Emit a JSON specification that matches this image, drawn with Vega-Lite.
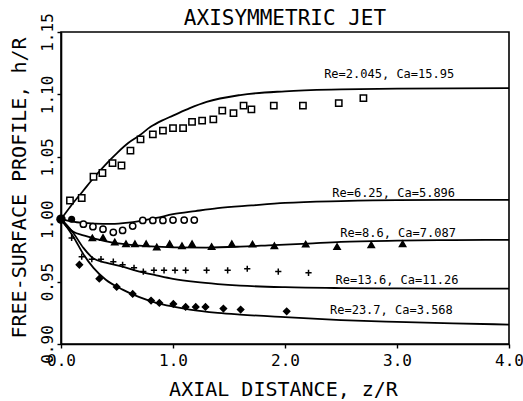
{
  "$schema": "https://vega.github.io/schema/vega-lite/v6.json",
  "width": 448,
  "height": 312,
  "autosize": {"type": "none"},
  "padding": {"left": 61, "top": 32, "right": 14, "bottom": 57},
  "background": "white",
  "title": {"text": "AXISYMMETRIC JET", "font": "DejaVu Sans Mono", "fontSize": 21, "fontWeight": "normal", "color": "black", "anchor": "middle", "frame": "group", "offset": 4, "dy": 20},
  "config": {
    "view": {"stroke": "black", "strokeWidth": 1.6},
    "axis": {"grid": false, "domainColor": "black", "domainWidth": 1.6, "tickColor": "black", "tickWidth": 1.4, "tickSize": 4, "labelFont": "DejaVu Sans Mono", "labelFontSize": 16, "labelColor": "black", "titleFont": "DejaVu Sans Mono", "titleFontSize": 20, "titleFontWeight": "normal", "titleColor": "black"}
  },
  "datasets": {
    "curves": [
      {"series": "A", "x": 0, "y": 1.0}, {"series": "A", "x": 0.1, "y": 1.012}, {"series": "A", "x": 0.2, "y": 1.023}, {"series": "A", "x": 0.3, "y": 1.034}, {"series": "A", "x": 0.4, "y": 1.044}, {"series": "A", "x": 0.5, "y": 1.053}, {"series": "A", "x": 0.6, "y": 1.061}, {"series": "A", "x": 0.7, "y": 1.067}, {"series": "A", "x": 0.8, "y": 1.074}, {"series": "A", "x": 0.9, "y": 1.079}, {"series": "A", "x": 1.0, "y": 1.083}, {"series": "A", "x": 1.15, "y": 1.089}, {"series": "A", "x": 1.3, "y": 1.094}, {"series": "A", "x": 1.6, "y": 1.0995}, {"series": "A", "x": 2.0, "y": 1.1025}, {"series": "A", "x": 2.5, "y": 1.104}, {"series": "A", "x": 3.0, "y": 1.1047}, {"series": "A", "x": 4.0, "y": 1.105},
      {"series": "B", "x": 0, "y": 1.0}, {"series": "B", "x": 0.1, "y": 0.998}, {"series": "B", "x": 0.2, "y": 0.997}, {"series": "B", "x": 0.3, "y": 0.9965}, {"series": "B", "x": 0.45, "y": 0.9962}, {"series": "B", "x": 0.6, "y": 0.9972}, {"series": "B", "x": 0.7, "y": 0.9985}, {"series": "B", "x": 0.85, "y": 1.001}, {"series": "B", "x": 1.0, "y": 1.004}, {"series": "B", "x": 1.2, "y": 1.0065}, {"series": "B", "x": 1.4, "y": 1.0088}, {"series": "B", "x": 1.7, "y": 1.011}, {"series": "B", "x": 2.0, "y": 1.013}, {"series": "B", "x": 2.5, "y": 1.0145}, {"series": "B", "x": 3.0, "y": 1.0153}, {"series": "B", "x": 4.0, "y": 1.0155},
      {"series": "C", "x": 0, "y": 1.0}, {"series": "C", "x": 0.05, "y": 0.994}, {"series": "C", "x": 0.11, "y": 0.99}, {"series": "C", "x": 0.2, "y": 0.987}, {"series": "C", "x": 0.3, "y": 0.9845}, {"series": "C", "x": 0.45, "y": 0.9815}, {"series": "C", "x": 0.6, "y": 0.9797}, {"series": "C", "x": 0.8, "y": 0.9782}, {"series": "C", "x": 1.0, "y": 0.9775}, {"series": "C", "x": 1.3, "y": 0.9773}, {"series": "C", "x": 1.6, "y": 0.978}, {"series": "C", "x": 1.9, "y": 0.9793}, {"series": "C", "x": 2.2, "y": 0.9805}, {"series": "C", "x": 2.5, "y": 0.9818}, {"series": "C", "x": 3.0, "y": 0.9828}, {"series": "C", "x": 3.5, "y": 0.9833}, {"series": "C", "x": 4.0, "y": 0.9835},
      {"series": "D", "x": 0, "y": 1.0}, {"series": "D", "x": 0.05, "y": 0.9955}, {"series": "D", "x": 0.11, "y": 0.989}, {"series": "D", "x": 0.2, "y": 0.977}, {"series": "D", "x": 0.29, "y": 0.9685}, {"series": "D", "x": 0.4, "y": 0.9652}, {"series": "D", "x": 0.55, "y": 0.962}, {"series": "D", "x": 0.7, "y": 0.958}, {"series": "D", "x": 0.85, "y": 0.955}, {"series": "D", "x": 1.0, "y": 0.9522}, {"series": "D", "x": 1.2, "y": 0.9497}, {"series": "D", "x": 1.4, "y": 0.948}, {"series": "D", "x": 1.6, "y": 0.9468}, {"series": "D", "x": 2.0, "y": 0.9455}, {"series": "D", "x": 2.5, "y": 0.9448}, {"series": "D", "x": 3.0, "y": 0.9445}, {"series": "D", "x": 4.0, "y": 0.9443},
      {"series": "E", "x": 0, "y": 1.0}, {"series": "E", "x": 0.05, "y": 0.994}, {"series": "E", "x": 0.11, "y": 0.986}, {"series": "E", "x": 0.2, "y": 0.972}, {"series": "E", "x": 0.29, "y": 0.961}, {"series": "E", "x": 0.4, "y": 0.9515}, {"series": "E", "x": 0.55, "y": 0.9436}, {"series": "E", "x": 0.7, "y": 0.9375}, {"series": "E", "x": 0.85, "y": 0.933}, {"series": "E", "x": 1.0, "y": 0.93}, {"series": "E", "x": 1.15, "y": 0.9276}, {"series": "E", "x": 1.4, "y": 0.925}, {"series": "E", "x": 1.6, "y": 0.9236}, {"series": "E", "x": 2.0, "y": 0.9215}, {"series": "E", "x": 2.5, "y": 0.9192}, {"series": "E", "x": 3.0, "y": 0.9177}, {"series": "E", "x": 3.5, "y": 0.9165}, {"series": "E", "x": 4.0, "y": 0.9156}
    ],
    "points": [
      {"series": "A", "x": 0.08, "y": 1.015}, {"series": "A", "x": 0.185, "y": 1.017}, {"series": "A", "x": 0.29, "y": 1.034}, {"series": "A", "x": 0.37, "y": 1.037}, {"series": "A", "x": 0.46, "y": 1.045}, {"series": "A", "x": 0.54, "y": 1.043}, {"series": "A", "x": 0.62, "y": 1.055}, {"series": "A", "x": 0.71, "y": 1.064}, {"series": "A", "x": 0.82, "y": 1.068}, {"series": "A", "x": 0.91, "y": 1.071}, {"series": "A", "x": 1.0, "y": 1.073}, {"series": "A", "x": 1.09, "y": 1.073}, {"series": "A", "x": 1.17, "y": 1.078}, {"series": "A", "x": 1.26, "y": 1.079}, {"series": "A", "x": 1.36, "y": 1.08}, {"series": "A", "x": 1.44, "y": 1.087}, {"series": "A", "x": 1.54, "y": 1.085}, {"series": "A", "x": 1.63, "y": 1.091}, {"series": "A", "x": 1.7, "y": 1.088}, {"series": "A", "x": 1.9, "y": 1.091}, {"series": "A", "x": 2.16, "y": 1.091}, {"series": "A", "x": 2.48, "y": 1.093}, {"series": "A", "x": 2.7, "y": 1.097},
      {"series": "B", "x": 0.2, "y": 0.996}, {"series": "B", "x": 0.285, "y": 0.994}, {"series": "B", "x": 0.375, "y": 0.992}, {"series": "B", "x": 0.467, "y": 0.9895}, {"series": "B", "x": 0.55, "y": 0.991}, {"series": "B", "x": 0.64, "y": 0.9945}, {"series": "B", "x": 0.73, "y": 0.999}, {"series": "B", "x": 0.82, "y": 0.999}, {"series": "B", "x": 0.91, "y": 0.999}, {"series": "B", "x": 1.0, "y": 0.9993}, {"series": "B", "x": 1.1, "y": 0.9993}, {"series": "B", "x": 1.19, "y": 0.9993},
      {"series": "C", "x": 0.28, "y": 0.985}, {"series": "C", "x": 0.375, "y": 0.9853}, {"series": "C", "x": 0.48, "y": 0.9817}, {"series": "C", "x": 0.58, "y": 0.9803}, {"series": "C", "x": 0.66, "y": 0.9803}, {"series": "C", "x": 0.76, "y": 0.9803}, {"series": "C", "x": 0.855, "y": 0.9777}, {"series": "C", "x": 0.97, "y": 0.9803}, {"series": "C", "x": 1.08, "y": 0.9787}, {"series": "C", "x": 1.17, "y": 0.9803}, {"series": "C", "x": 1.345, "y": 0.978}, {"series": "C", "x": 1.525, "y": 0.9803}, {"series": "C", "x": 1.71, "y": 0.98}, {"series": "C", "x": 1.905, "y": 0.9787}, {"series": "C", "x": 2.185, "y": 0.98}, {"series": "C", "x": 2.465, "y": 0.978}, {"series": "C", "x": 2.77, "y": 0.9795}, {"series": "C", "x": 3.05, "y": 0.9803},
      {"series": "D", "x": 0.095, "y": 0.985}, {"series": "D", "x": 0.185, "y": 0.97}, {"series": "D", "x": 0.275, "y": 0.968}, {"series": "D", "x": 0.357, "y": 0.968}, {"series": "D", "x": 0.467, "y": 0.966}, {"series": "D", "x": 0.55, "y": 0.9635}, {"series": "D", "x": 0.652, "y": 0.961}, {"series": "D", "x": 0.735, "y": 0.958}, {"series": "D", "x": 0.83, "y": 0.959}, {"series": "D", "x": 0.92, "y": 0.959}, {"series": "D", "x": 1.018, "y": 0.959}, {"series": "D", "x": 1.113, "y": 0.959}, {"series": "D", "x": 1.3, "y": 0.959}, {"series": "D", "x": 1.488, "y": 0.959}, {"series": "D", "x": 1.663, "y": 0.9603}, {"series": "D", "x": 1.94, "y": 0.958}, {"series": "D", "x": 2.21, "y": 0.957},
      {"series": "E", "x": 0.164, "y": 0.9635}, {"series": "E", "x": 0.342, "y": 0.9523}, {"series": "E", "x": 0.497, "y": 0.9457}, {"series": "E", "x": 0.64, "y": 0.9401}, {"series": "E", "x": 0.804, "y": 0.9348}, {"series": "E", "x": 0.878, "y": 0.9329}, {"series": "E", "x": 1.003, "y": 0.9321}, {"series": "E", "x": 1.113, "y": 0.9297}, {"series": "E", "x": 1.203, "y": 0.9297}, {"series": "E", "x": 1.29, "y": 0.9297}, {"series": "E", "x": 1.45, "y": 0.9284}, {"series": "E", "x": 1.604, "y": 0.9276}, {"series": "E", "x": 2.015, "y": 0.9262}
    ],
    "dots": [
      {"x": 0.0, "y": 1.0, "s": 90}, {"x": 0.095, "y": 1.0, "s": 50}
    ],
    "labels": [
      {"x": 2.93, "y": 1.1161, "text": "Re=2.045,  Ca=15.95"},
      {"x": 2.97, "y": 1.0213, "text": "Re=6.25,  Ca=5.896"},
      {"x": 3.01, "y": 0.9893, "text": "Re=8.6,  Ca=7.087"},
      {"x": 3.0, "y": 0.9515, "text": "Re=13.6,  Ca=11.26"},
      {"x": 2.95, "y": 0.927, "text": "Re=23.7,  Ca=3.568"}
    ]
  },
  "encoding": {
    "x": {"field": "x", "type": "quantitative", "scale": {"domain": [0, 4], "nice": false, "zero": false},
      "axis": {"values": [0, 1, 2, 3, 4], "format": ".1f", "title": "AXIAL DISTANCE,  z/R", "labelPadding": 4, "titleX": 222, "titleY": 45, "titleBaseline": "middle", "titleAlign": "center", "labelFlush": false}},
    "y": {"field": "y", "type": "quantitative", "scale": {"domain": [0.9, 1.15], "nice": false, "zero": false},
      "axis": {"values": [0.9, 0.95, 1.0, 1.05, 1.1, 1.15], "format": ".2f", "title": "FREE-SURFACE PROFILE,  h/R", "labelAngle": 270, "labelAlign": "center", "labelBaseline": "bottom", "labelPadding": 2, "titleAngle": 270, "titleX": -42, "titleY": 155.5, "titleBaseline": "middle", "titleAlign": "center", "labelFlush": false}}
  },
  "layer": [
    {
      "data": {"name": "curves"},
      "mark": {"type": "line", "color": "black", "strokeWidth": 1.8, "interpolate": "monotone"},
      "encoding": {"detail": {"field": "series"}}
    },
    {
      "data": {"name": "points"},
      "mark": {"type": "point", "stroke": "black", "strokeWidth": 1.5, "opacity": 1},
      "encoding": {
        "shape": {"field": "series", "type": "nominal", "legend": null, "scale": {"domain": ["A", "B", "C", "D", "E"], "range": ["square", "circle", "triangle-up", "M-1,0H1M0,-1V1", "diamond"]}},
        "fill": {"field": "series", "type": "nominal", "legend": null, "scale": {"domain": ["A", "B", "C", "D", "E"], "range": ["white", "white", "black", "black", "black"]}},
        "size": {"field": "series", "type": "nominal", "legend": null, "scale": {"domain": ["A", "B", "C", "D", "E"], "range": [40, 38, 45, 60, 45]}}
      }
    },
    {
      "data": {"name": "dots"},
      "mark": {"type": "circle", "color": "black", "opacity": 1},
      "encoding": {"size": {"field": "s", "type": "quantitative", "scale": null}}
    },
    {
      "data": {"name": "labels"},
      "mark": {"type": "text", "font": "DejaVu Sans Mono", "fontSize": 12, "color": "black", "align": "center", "baseline": "middle"},
      "encoding": {"text": {"field": "text"}}
    }
  ]
}
